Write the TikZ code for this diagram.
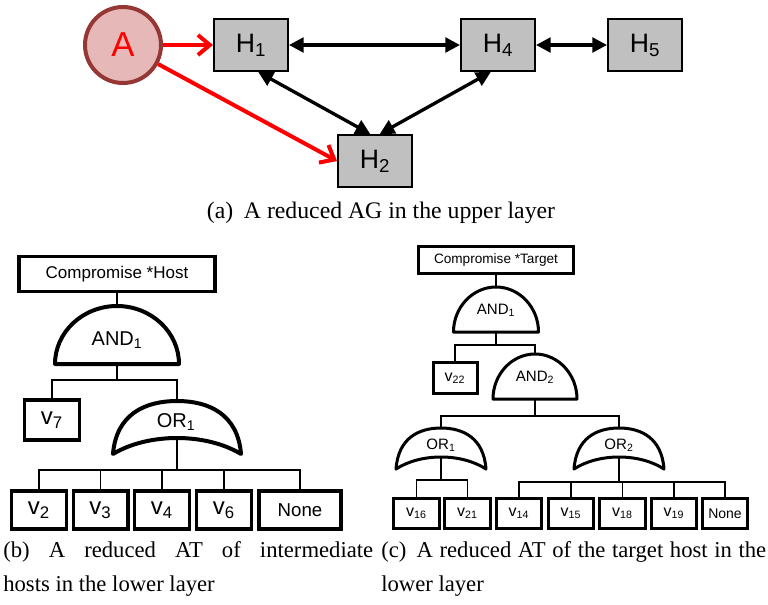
\documentclass[tikz,border=0pt]{standalone}
\usepackage{fontspec}
\setmainfont{Liberation Serif}
\setsansfont{Liberation Sans}
\usetikzlibrary{arrows.meta}

\definecolor{hostgray}{HTML}{C0C0C0}
\definecolor{attfill}{HTML}{E6B9B8}
\definecolor{attdraw}{HTML}{953735}

% [style] name, x, top, base, half width
\newcommand{\andgate}[6][gate]{%
  \draw[#1] (#3-#6,#5) .. controls (#3-#6,#5-0.55*#5+0.55*#4) and (#3-0.55*#6,#4) .. (#3,#4)
    .. controls (#3+0.55*#6,#4) and (#3+#6,#5-0.55*#5+0.55*#4) .. (#3+#6,#5) -- cycle;
  \coordinate (#2t) at (#3,#4);
  \coordinate (#2b) at (#3,#5);
}
% [style] name, x, top, tips, middle of the base, half width
\newcommand{\orgate}[7][gate]{%
  \draw[#1] (#3-#7,#5) .. controls (#3-0.95*#7,#5-0.75*#5+0.75*#4) and (#3-0.5*#7,#4) .. (#3,#4)
    .. controls (#3+0.5*#7,#4) and (#3+0.95*#7,#5-0.75*#5+0.75*#4) .. (#3+#7,#5)
    .. controls (#3+0.45*#7,#6*4/3-#5/3) and (#3-0.45*#7,#6*4/3-#5/3) .. (#3-#7,#5) -- cycle;
  \coordinate (#2t) at (#3,#4);
  \coordinate (#2b) at (#3,#6);
}

\begin{document}
\begin{tikzpicture}[x=0.75pt, y=-0.75pt,
  host/.style = {draw, line width=1.5pt, fill=hostgray, minimum width=55.5pt, minimum height=39pt,
    font=\fontsize{20}{24}\sffamily},
  attacker/.style = {draw=attdraw, line width=3pt, fill=attfill, circle, minimum size=57pt,
    text=red, font=\fontsize{26}{30}\sffamily},
  hop/.style = {line width=2.5pt, {Triangle[length=11pt,width=11pt]}-{Triangle[length=11pt,width=11pt]}},
  attack/.style = {red, line width=3pt, -{Straight Barb[length=9pt,width=15pt]}},
  goal/.style = {draw, line width=2.5pt, minimum width=147pt, minimum height=26pt,
    font=\fontsize{12.75}{15}\sffamily},
  leaf/.style = {draw, line width=2.5pt, minimum width=41pt, minimum height=28.5pt,
    font=\fontsize{18}{21}\sffamily},
  gate/.style = {line width=3pt, line join=round},
  gatelbl/.style = {font=\fontsize{15}{18}\sffamily},
  link/.style = {line width=1pt},
  smallgoal/.style = {goal, line width=2.25pt, minimum width=116pt, minimum height=20pt,
    font=\fontsize{10.2}{12}\sffamily},
  smallleaf/.style = {leaf, line width=2.25pt, minimum width=34pt, minimum height=22.5pt,
    font=\fontsize{12}{14}\sffamily},
  smallgate/.style = {gate, line width=2.25pt},
  smalllbl/.style = {font=\fontsize{11.3}{13}\sffamily},
  caption/.style = {font=\fontsize{17}{20}\selectfont, inner sep=0pt}]
\useasboundingbox (0,0) rectangle (768,604);

% (a) upper layer
\node[attacker] (A) at (123,45) {A};
\node[host] (H1) at (251,45) {H\textsubscript{1}};
\node[host] (H4) at (498,45) {H\textsubscript{4}};
\node[host] (H5) at (645,45) {H\textsubscript{5}};
\node[host] (H2) at (375,161) {H\textsubscript{2}};
\draw[attack] (A) -- (H1);
\draw[attack] (A) -- (H2.west);
\draw[hop] (H1) -- (H4);
\draw[hop] (H4) -- (H5);
\draw[hop] (H1.-75) -- (H2.100);
\draw[hop] (H4.-105) -- (H2.80);
\node[caption, font=\fontsize{17.8}{21}\selectfont] (capa) at (381,213) {(a)\hspace{0.45em}A reduced AG in the upper layer};

% (b) intermediate hosts
\node[goal] (hostgoal) at (117,274) {Compromise *Host};
\andgate{andb}{117}{306}{364}{62}
\node[gatelbl] (andblbl) at (117,340) {AND\textsubscript{1}};
\node[leaf, minimum height=30pt] (v7) at (52,420) {v\textsubscript{7}};
\orgate{orb}{177}{401}{454}{438}{64}
\node[gatelbl] (orblbl) at (176,422) {OR\textsubscript{1}};
\node[leaf] (v2) at (39,510) {v\textsubscript{2}};
\node[leaf] (v3) at (100.5,510) {v\textsubscript{3}};
\node[leaf] (v4) at (162,510) {v\textsubscript{4}};
\node[leaf] (v6) at (224,510) {v\textsubscript{6}};
\node[leaf, minimum width=61.5pt, font=\fontsize{14}{17}\sffamily] (noneb) at (300,510) {None};
\draw[link] (hostgoal) -- (andbt);
\draw[link] (andbb) -- ++(0,16) coordinate (jb1);
\draw[link] (v7.north) |- (jb1) -| (orbt);
\draw[link] (orbb) -- (177,470) coordinate (jb2);
\foreach \n in {v2,v3,v4,v6,noneb}
  \draw[link] (\n.north) |- (jb2);
\node[caption, anchor=base west] (capb1) at (3,557) {\makebox[277.5pt][s]{(b) A reduced AT of intermediate}};
\node[caption, anchor=base west] (capb2) at (3,591) {hosts in the lower layer};

% (c) target host
\node[smallgoal] (tgoal) at (496,260) {Compromise *Target};
\andgate[smallgate]{andc}{496}{287}{332}{42.5}
\node[smalllbl] (andclbl) at (496,310) {AND\textsubscript{1}};
\node[smallleaf, minimum width=33pt, minimum height=23pt] (v22) at (455,378) {v\textsubscript{22}};
\andgate[smallgate]{andd}{535}{354}{399}{42}
\node[smalllbl] (anddlbl) at (535,377) {AND\textsubscript{2}};
\orgate[smallgate]{orc}{441}{428}{469}{457}{45}
\node[smalllbl] (orclbl) at (441,445) {OR\textsubscript{1}};
\orgate[smallgate]{ord}{619}{428}{469}{457}{45}
\node[smalllbl] (ordlbl) at (619,445) {OR\textsubscript{2}};
\node[smallleaf] (v16) at (416.5,513.5) {v\textsubscript{16}};
\node[smallleaf] (v21) at (467.5,513.5) {v\textsubscript{21}};
\node[smallleaf] (v14) at (519,513.5) {v\textsubscript{14}};
\node[smallleaf] (v15) at (571,513.5) {v\textsubscript{15}};
\node[smallleaf] (v18) at (622.5,513.5) {v\textsubscript{18}};
\node[smallleaf] (v19) at (674,513.5) {v\textsubscript{19}};
\node[smallleaf, font=\fontsize{10.5}{12}\sffamily] (nonec) at (725,513.5) {None};
\draw[link] (tgoal) -- (andct);
\draw[link] (andcb) -- ++(0,13) coordinate (jc1);
\draw[link] (v22.north) |- (jc1) -| (anddt);
\draw[link] (anddb) -- ++(0,17) coordinate (jc2);
\draw[link] (orct) |- (jc2) -| (ordt);
\draw[link] (orcb) -- (441,480) coordinate (jc3);
\foreach \n in {v16,v21}
  \draw[link] (\n.north) |- (jc3);
\draw[link] (ordb) -- (619,482) coordinate (jc4);
\foreach \n in {v14,v15,v18,v19,nonec}
  \draw[link] (\n.north) |- (jc4);
\node[caption, anchor=base west] (capc1) at (381,557) {\makebox[288.75pt][s]{(c)\hspace{0.45em}A reduced AT of the target host in the}};
\node[caption, anchor=base west] (capc2) at (381,591) {lower layer};
\end{tikzpicture}
\end{document}
